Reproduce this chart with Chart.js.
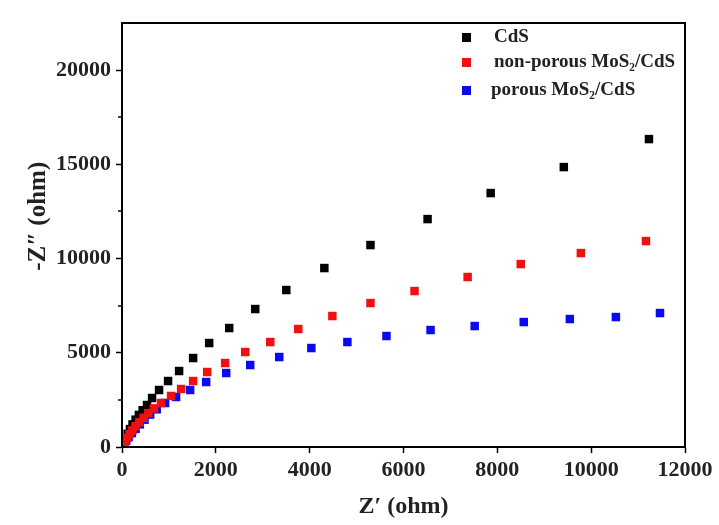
<!DOCTYPE html>
<html><head><meta charset="utf-8">
<script src="https://cdn.jsdelivr.net/npm/chart.js@4"></script>
<style>html,body{margin:0;padding:0;background:#fff}#w{width:719px;height:525px;position:relative}</style>
</head><body><div id="w"><canvas id="c"></canvas></div>
<script>
const seriesNames = ['CdS', 'non-porous MoS\u2082/CdS', 'porous MoS\u2082/CdS'];
const seriesColors = ['#000000', '#f01010', '#0a0aee'];
const cdsX = [20,45,80,120,170,225,290,360,440,534,641,790,982,1217,1516,1858,2285,2840,3502,4313,5296,6513,7858,9417,11232];
const cdsY = [80,250,450,700,950,1200,1450,1700,1950,2228,2600,3024,3501,4032,4721,5517,6313,7321,8329,9496,10716,12095,13475,14854,16340];
const nonPorousX = [15,40,70,110,160,220,290,370,460,560,680,833,1046,1260,1516,1815,2199,2627,3160,3758,4484,5296,6235,7367,8499,9780,11168];
const nonPorousY = [60,180,320,490,680,880,1100,1320,1550,1800,2050,2334,2706,3077,3501,3979,4456,5040,5570,6260,6950,7639,8276,9019,9708,10292,10928];
const porousX = [20,50,90,140,210,290,380,480,600,740,918,1153,1452,1794,2221,2733,3352,4036,4804,5637,6577,7517,8563,9545,10527,11467];
const porousY = [60,180,340,520,740,960,1200,1450,1720,2000,2334,2653,3024,3448,3926,4350,4774,5252,5570,5889,6207,6419,6631,6790,6896,7109];
const xTicks = [0,2000,4000,6000,8000,10000,12000];
const yTicks = [0,5000,10000,15000,20000];
const yMinorTicks = [2500,7500,12500,17500];

function pts(xs, ys){ return xs.map((x,i)=>({x:x, y:ys[i]})); }
const FONT = '"Liberation Serif", "Times New Roman", serif';

const framePlugin = {
  id: 'frame',
  afterDraw(chart){
    const ctx = chart.ctx, a = chart.chartArea, ys = chart.scales.y;
    ctx.save();
    ctx.strokeStyle = '#000'; ctx.lineWidth = 2;
    ctx.strokeRect(a.left, a.top, a.right - a.left, a.bottom - a.top);
    ctx.lineWidth = 1.5;
    yMinorTicks.forEach(v=>{
      const py = Math.round(ys.getPixelForValue(v));
      ctx.beginPath(); ctx.moveTo(a.left - 4, py); ctx.lineTo(a.left, py); ctx.stroke();
    });
    // legend
    const rows = [37, 62, 90];
    const textX = [494, 494, 491];
    ctx.font = 'bold 19px ' + FONT;
    ctx.textBaseline = 'middle';
    chart.data.datasets.forEach((ds)=>{
      const k = ds.legendIndex, r = rows[k];
      ctx.fillStyle = ds.backgroundColor;
      ctx.fillRect(462, r - 4, 9, 9);
      ctx.fillStyle = '#222';
      ctx.fillText(ds.label, textX[k], r);
    });
    ctx.restore();
  }
};

const fmt = v => String(v);

new Chart(document.getElementById('c'), {
  type: 'scatter',
  data: {
    datasets: [
      {label: seriesNames[1], legendIndex: 1, data: pts(nonPorousX, nonPorousY), backgroundColor: seriesColors[1], borderColor: seriesColors[1], order: 0},
      {label: seriesNames[0], legendIndex: 0, data: pts(cdsX, cdsY), backgroundColor: seriesColors[0], borderColor: seriesColors[0], order: 1},
      {label: seriesNames[2], legendIndex: 2, data: pts(porousX, porousY), backgroundColor: seriesColors[2], borderColor: seriesColors[2], order: 2}
    ]
  },
  options: {
    responsive: true, maintainAspectRatio: false, animation: false,
    layout: {padding: {left: 0, right: 34, top: 23, bottom: 0}},
    elements: {point: {pointStyle: 'rect', radius: 6, borderWidth: 0, hoverRadius: 6}},
    plugins: {legend: {display: false}, tooltip: {enabled: false}},
    scales: {
      x: {
        type: 'linear', min: 0, max: 12000,
        afterBuildTicks: s => { s.ticks = xTicks.map(v=>({value:v})); },
        afterFit: s => { s.height = 78; },
        grid: {drawOnChartArea: false, tickLength: 6, tickColor: '#000', tickWidth: 1.5},
        border: {color: '#000', width: 2},
        ticks: {color: '#222', font: {family: FONT, size: 22, weight: 'bold'}, padding: 4, maxRotation: 0, callback: fmt},
        title: {display: true, text: 'Z\u2032 (ohm)', color: '#222', font: {family: FONT, size: 24, weight: 'bold'}, padding: {top: 0}}
      },
      y: {
        type: 'linear', min: 0, max: 22500,
        afterBuildTicks: s => { s.ticks = yTicks.map(v=>({value:v})); },
        afterFit: s => { s.width = 122; },
        grid: {drawOnChartArea: false, tickLength: 6, tickColor: '#000', tickWidth: 1.5},
        border: {color: '#000', width: 2},
        ticks: {color: '#222', font: {family: FONT, size: 22, weight: 'bold'}, padding: 5, callback: fmt},
        title: {display: true, text: '      -Z\u2033 (ohm)', color: '#222', font: {family: FONT, size: 25, weight: 'bold'}, padding: {top: 24}}
      }
    }
  },
  plugins: [framePlugin]
});
</script>
</body></html>
